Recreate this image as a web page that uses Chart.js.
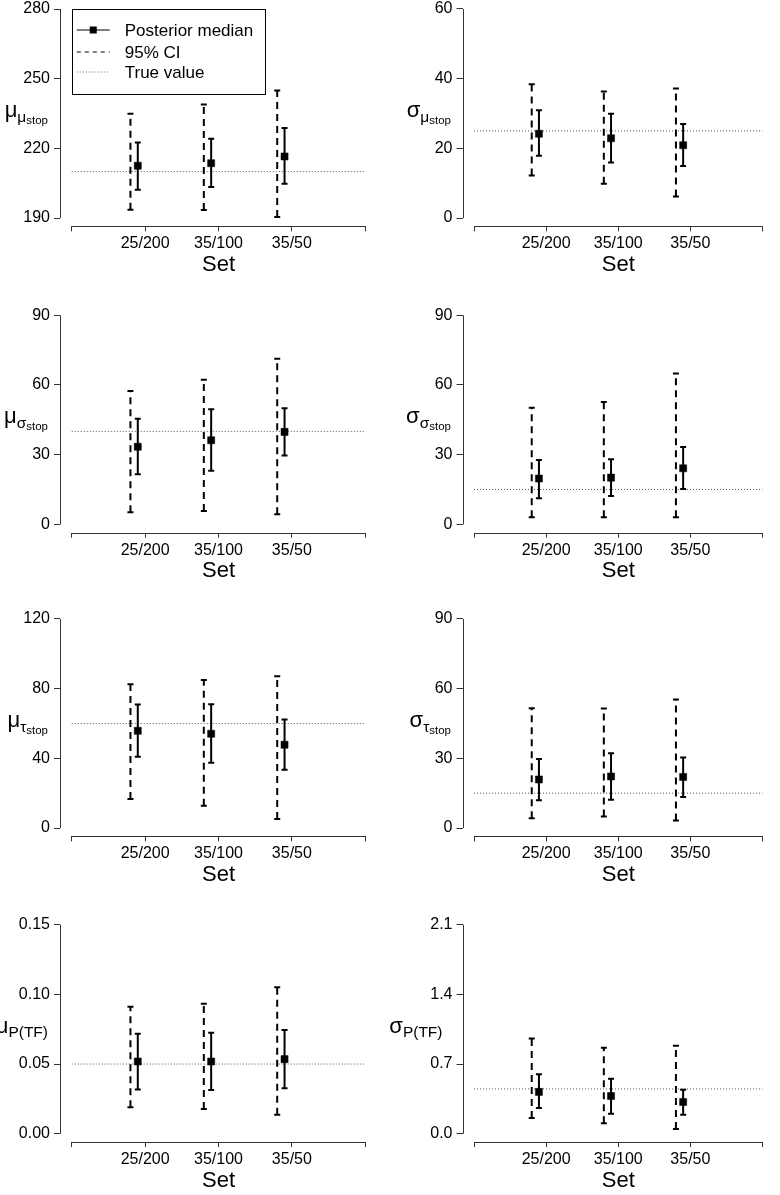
<!DOCTYPE html>
<html>
<head>
<meta charset="utf-8">
<script src="https://cdn.jsdelivr.net/npm/chart.js@4.4.1/dist/chart.umd.min.js"></script>
<style>
  html, body { margin: 0; padding: 0; background: #fff; overflow: hidden; }
  #page { position: relative; width: 780px; height: 1195px; overflow: hidden; background: #fff; }
  .panel { position: absolute; }
</style>
</head>
<body>
<div id="page"></div>
<script>
// categories on the x axis
const sets = ['25/200', '35/100', '35/50'];

// mu of mu_stop
const muMuStopMedian = [212.5, 213.6, 216.5];
const muMuStopCI = [[193.6, 234.9], [193.4, 238.9], [190.4, 244.9]];
const muMuStopInner = [[202.2, 222.5], [203.3, 224.1], [204.8, 228.8]];
const muMuStopTrue = 210;
const muMuStopTicks = [190, 220, 250, 280];

// sigma of mu_stop
const sdMuStopMedian = [24.2, 22.9, 20.9];
const sdMuStopCI = [[12.2, 38.4], [9.8, 36.3], [6.2, 37.2]];
const sdMuStopInner = [[17.9, 30.9], [15.9, 29.9], [14.9, 27.0]];
const sdMuStopTrue = 25;
const sdMuStopTicks = [0, 20, 40, 60];

// mu of sigma_stop
const muSigmaStopMedian = [33.4, 36.2, 39.8];
const muSigmaStopCI = [[5.2, 57.4], [5.7, 62.2], [4.3, 71.3]];
const muSigmaStopInner = [[21.5, 45.4], [23.1, 49.5], [29.6, 50.0]];
const muSigmaStopTrue = 40;
const muSigmaStopTicks = [0, 30, 60, 90];

// sigma of sigma_stop
const sdSigmaStopMedian = [19.7, 20.1, 24.1];
const sdSigmaStopCI = [[3.0, 50.2], [3.0, 52.7], [3.0, 64.9]];
const sdSigmaStopInner = [[11.2, 27.7], [12.2, 28.0], [15.2, 33.3]];
const sdSigmaStopTrue = 15;
const sdSigmaStopTicks = [0, 30, 60, 90];

// mu of tau_stop
const muTauStopMedian = [55.8, 54.1, 47.8];
const muTauStopCI = [[16.6, 82.5], [12.8, 85.0], [5.2, 87.1]];
const muTauStopInner = [[40.9, 70.9], [37.4, 71.1], [33.4, 62.3]];
const muTauStopTrue = 60;
const muTauStopTicks = [0, 40, 80, 120];

// sigma of tau_stop
const sdTauStopMedian = [20.9, 22.2, 22.0];
const sdTauStopCI = [[4.2, 51.6], [5.0, 51.5], [3.2, 55.3]];
const sdTauStopInner = [[12.0, 29.7], [12.2, 32.2], [13.3, 30.4]];
const sdTauStopTrue = 15;
const sdTauStopTicks = [0, 30, 60, 90];

// mu of P(TF)
const muPtfMedian = [0.0518, 0.0518, 0.0535];
const muPtfCI = [[0.0189, 0.0912], [0.0177, 0.0932], [0.0136, 0.1051]];
const muPtfInner = [[0.0318, 0.0717], [0.0313, 0.0724], [0.0327, 0.0745]];
const muPtfTrue = 0.05;
const muPtfTicks = [0, 0.05, 0.10, 0.15];

// sigma of P(TF)
const sdPtfMedian = [0.420, 0.378, 0.318];
const sdPtfCI = [[0.157, 0.956], [0.104, 0.863], [0.047, 0.883]];
const sdPtfInner = [[0.257, 0.598], [0.201, 0.551], [0.191, 0.441]];
const sdPtfTrue = 0.45;
const sdPtfTicks = [0, 0.7, 1.4, 2.1];

// legend entries
const legendLabels = ['Posterior median', '95% CI', 'True value'];

const FONT = 'Liberation Sans, Arial, Helvetica, sans-serif';
const AXIS = '#333';
Chart.defaults.font.family = FONT;

// y label pieces: [text, size, drop]
function lab(main, sub, subsub) {
  const parts = [[main, 22, 0], [sub, 15.5, 4.5]];
  if (subsub) parts.push([subsub, 11.5, 6.5]);
  return parts;
}

const panels = [
  { med: muMuStopMedian, ci: muMuStopCI, inner: muMuStopInner, truth: muMuStopTrue, ticks: muMuStopTicks, dec: 0, label: lab('μ', 'μ', 'stop'), gap: 12, legend: true },
  { med: sdMuStopMedian, ci: sdMuStopCI, inner: sdMuStopInner, truth: sdMuStopTrue, ticks: sdMuStopTicks, dec: 0, label: lab('σ', 'μ', 'stop'), gap: 11.5 },
  { med: muSigmaStopMedian, ci: muSigmaStopCI, inner: muSigmaStopInner, truth: muSigmaStopTrue, ticks: muSigmaStopTicks, dec: 0, label: lab('μ', 'σ', 'stop'), gap: 12 },
  { med: sdSigmaStopMedian, ci: sdSigmaStopCI, inner: sdSigmaStopInner, truth: sdSigmaStopTrue, ticks: sdSigmaStopTicks, dec: 0, label: lab('σ', 'σ', 'stop'), gap: 11.5 },
  { med: muTauStopMedian, ci: muTauStopCI, inner: muTauStopInner, truth: muTauStopTrue, ticks: muTauStopTicks, dec: 0, label: lab('μ', 'τ', 'stop'), gap: 12 },
  { med: sdTauStopMedian, ci: sdTauStopCI, inner: sdTauStopInner, truth: sdTauStopTrue, ticks: sdTauStopTicks, dec: 0, label: lab('σ', 'τ', 'stop'), gap: 11.5 },
  { med: muPtfMedian, ci: muPtfCI, inner: muPtfInner, truth: muPtfTrue, ticks: muPtfTicks, dec: 2, label: lab('μ', 'P(TF)'), gap: 12 },
  { med: sdPtfMedian, ci: sdPtfCI, inner: sdPtfInner, truth: sdPtfTrue, ticks: sdPtfTicks, dec: 1, label: lab('σ', 'P(TF)'), gap: 20 }
];

// where the top tick of each row sits on the page, and the tick span in px
const rowTickTop = [9, 315.3, 619, 924.7];
const tickSpan = 209;
const CANVAS_H = 320;

function segments(pairs, shift) {
  const pts = [];
  pairs.forEach(function(p, i) {
    const x = i + 1 + shift;
    pts.push({ x: x, y: p[0] }, { x: x, y: p[1] }, { x: x, y: null });
  });
  return pts;
}

function drawLegend(ctx, x0, y0) {
  ctx.save();
  ctx.strokeStyle = '#000';
  ctx.lineWidth = 1;
  ctx.strokeRect(Math.round(x0) + 0.5, Math.round(y0) + 0.5, 193, 85);
  const rows = [y0 + 21, y0 + 43, y0 + 63];
  const lx1 = x0 + 5, lx2 = x0 + 38;
  // posterior median
  ctx.beginPath(); ctx.moveTo(lx1, rows[0]); ctx.lineTo(lx2, rows[0]); ctx.stroke();
  ctx.fillStyle = '#000';
  ctx.fillRect((lx1 + lx2) / 2 - 3.5, rows[0] - 3.5, 7, 7);
  // 95% CI
  ctx.setLineDash([4, 4]);
  ctx.beginPath(); ctx.moveTo(lx1, rows[1]); ctx.lineTo(lx2, rows[1]); ctx.stroke();
  // true value
  ctx.strokeStyle = '#666';
  ctx.setLineDash([1, 2]);
  ctx.beginPath(); ctx.moveTo(lx1, rows[2]); ctx.lineTo(lx2, rows[2]); ctx.stroke();
  ctx.setLineDash([]);
  ctx.fillStyle = '#000';
  ctx.font = '17px ' + FONT;
  ctx.textBaseline = 'middle';
  ctx.textAlign = 'left';
  legendLabels.forEach(function(t, i) { ctx.fillText(t, x0 + 53, rows[i] + 1); });
  ctx.restore();
}

function drawYLabel(ctx, parts, rightX, midY) {
  ctx.save();
  ctx.fillStyle = '#000';
  ctx.textBaseline = 'alphabetic';
  ctx.textAlign = 'left';
  let w = 0;
  const widths = parts.map(function(p) {
    ctx.font = p[1] + 'px ' + FONT;
    const pw = ctx.measureText(p[0]).width;
    w += pw;
    return pw;
  });
  let x = rightX - w;
  parts.forEach(function(p, i) {
    ctx.font = p[1] + 'px ' + FONT;
    ctx.fillText(p[0], x, midY + 3.5 + p[2]);
    x += widths[i];
  });
  ctx.restore();
}

const rAxes = {
  id: 'rAxes',
  afterDraw: function(chart) {
    const p = chart.options.plugins.rAxes;
    const ctx = chart.ctx;
    const xs = chart.scales.x, ys = chart.scales.y;
    const area = chart.chartArea;
    ctx.save();
    ctx.strokeStyle = AXIS;
    ctx.lineWidth = 1;
    const ax = Math.round(area.left) + 0.5;
    const ay = Math.round(area.bottom) + 0.5;
    ctx.beginPath();
    ctx.moveTo(ax, ys.getPixelForValue(p.ticks[0]));
    ctx.lineTo(ax, ys.getPixelForValue(p.ticks[p.ticks.length - 1]));
    ctx.moveTo(xs.getPixelForValue(0), ay);
    ctx.lineTo(xs.getPixelForValue(4), ay);
    ctx.stroke();
    ctx.restore();
    drawYLabel(ctx, p.label, area.left - p.gap, (area.top + area.bottom) / 2);
    if (p.legend) {
      drawLegend(ctx, xs.getPixelForValue(0), ys.getPixelForValue(p.ticks[p.ticks.length - 1]));
    }
  }
};

const page = document.getElementById('page');

panels.forEach(function(cfg, k) {
  const col = k % 2, row = Math.floor(k / 2);
  const lo = cfg.ticks[0], hi = cfg.ticks[cfg.ticks.length - 1];
  const pad = (hi - lo) * 0.04;
  const areaH = tickSpan * 1.08;
  const areaTop = rowTickTop[row] - tickSpan * 0.04;
  const canvasTop = Math.floor(areaTop) - 14;
  const padTop = areaTop - canvasTop;
  const xAxisH = CANVAS_H - padTop - areaH;
  const yAxisW = col === 0 ? 60 : 72.5;

  const div = document.createElement('div');
  div.className = 'panel';
  div.style.left = (col * 390) + 'px';
  div.style.top = canvasTop + 'px';
  div.style.width = '390px';
  div.style.height = CANVAS_H + 'px';
  const canvas = document.createElement('canvas');
  canvas.width = 390;
  canvas.height = CANVAS_H;
  canvas.style.width = '390px';
  canvas.style.height = CANVAS_H + 'px';
  div.appendChild(canvas);
  page.appendChild(div);

  new Chart(canvas, {
    type: 'scatter',
    data: {
      datasets: [
        {
          label: 'Posterior median',
          data: cfg.med.map(function(v, i) { return { x: i + 0.9, y: v }; }),
          showLine: false,
          pointStyle: 'rect',
          pointRadius: 5,
          backgroundColor: '#000',
          borderColor: '#000',
          borderWidth: 0.5,
          order: 0
        },
        {
          label: 'Inner interval',
          data: segments(cfg.inner, -0.1),
          showLine: true,
          borderColor: '#000',
          borderWidth: 2,
          pointStyle: 'line',
          pointRadius: 3,
          pointBorderWidth: 2,
          pointBorderColor: '#000',
          order: 1
        },
        {
          label: '95% CI',
          data: segments(cfg.ci, -0.2),
          showLine: true,
          borderColor: '#000',
          borderWidth: 2,
          borderDash: [7, 5],
          pointStyle: 'line',
          pointRadius: 3,
          pointBorderWidth: 2,
          pointBorderColor: '#000',
          order: 2
        },
        {
          label: 'True value',
          data: [{ x: 0, y: cfg.truth }, { x: 4, y: cfg.truth }],
          showLine: true,
          borderColor: '#555',
          borderWidth: 1,
          borderDash: [1, 2],
          pointRadius: 0,
          order: 3
        }
      ]
    },
    options: {
      responsive: false,
      animation: false,
      layout: { padding: { top: padTop, bottom: 0, left: 0, right: col === 0 ? 13 : 0 } },
      plugins: {
        legend: { display: false },
        tooltip: { enabled: false },
        rAxes: { ticks: cfg.ticks, label: cfg.label, gap: cfg.gap, legend: !!cfg.legend }
      },
      scales: {
        x: {
          type: 'linear',
          min: -0.16,
          max: 4.16,
          afterBuildTicks: function(s) { s.ticks = [0, 1, 2, 3, 4].map(function(v) { return { value: v }; }); },
          afterFit: function(s) { s.height = xAxisH; },
          border: { display: false },
          grid: { drawOnChartArea: false, drawTicks: true, tickLength: 5, color: AXIS, lineWidth: 1 },
          ticks: {
            autoSkip: false,
            maxRotation: 0,
            padding: 3,
            color: '#000',
            font: { size: 16 },
            callback: function(v) { return sets[v - 1] || ''; }
          },
          title: { display: true, text: 'Set', color: '#000', font: { size: 22 }, padding: { top: 0, bottom: 28 } }
        },
        y: {
          type: 'linear',
          min: lo - pad,
          max: hi + pad,
          afterBuildTicks: function(s) { s.ticks = cfg.ticks.map(function(v) { return { value: v }; }); },
          afterFit: function(s) { s.width = yAxisW; },
          border: { display: false },
          grid: { drawOnChartArea: false, drawTicks: true, tickLength: 6, color: AXIS, lineWidth: 1 },
          ticks: {
            padding: 4,
            color: '#000',
            font: { size: 16 },
            callback: function(v) { return Number(v).toFixed(cfg.dec); }
          }
        }
      }
    },
    plugins: [rAxes]
  });
});
</script>
</body>
</html>
